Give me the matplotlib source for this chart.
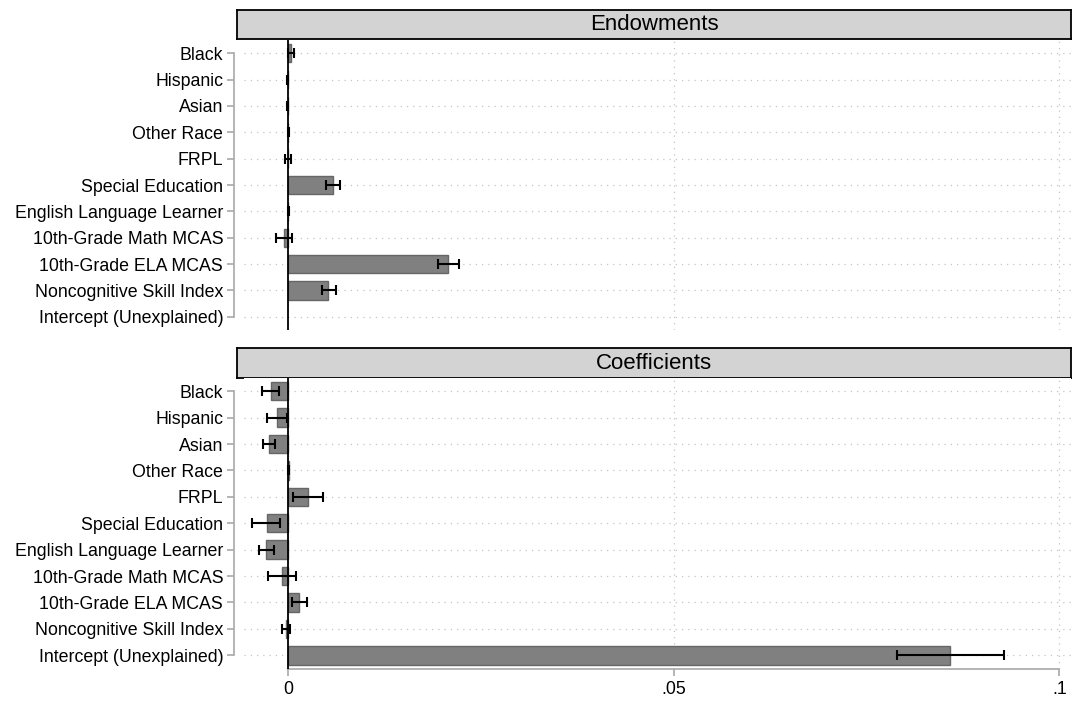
import numpy as np
import matplotlib
matplotlib.use('Agg')
import matplotlib.pyplot as plt

plt.rcParams['font.family'] = ['Liberation Sans', 'DejaVu Sans']

# categories (top to bottom)
labels = ['Black', 'Hispanic', 'Asian', 'Other Race', 'FRPL', 'Special Education',
          'English Language Learner', '10th-Grade Math MCAS', '10th-Grade ELA MCAS',
          'Noncognitive Skill Index', 'Intercept (Unexplained)']

# Endowments panel
endow = [0.0003, -0.0001, -0.0001, 0.0, -0.0001, 0.00575, 0.0, -0.0006, 0.02067, 0.00519, np.nan]
endow_lo = [-0.0001, -0.0002, -0.0002, -0.0001, -0.0005, 0.0049, -0.0001, -0.00156, 0.01937, 0.00437, np.nan]
endow_hi = [0.0007, 0.0000, 0.0000, 0.0001, 0.0003, 0.0067, 0.0001, 0.00043, 0.02209, 0.0061, np.nan]

# Coefficients panel
coef = [-0.00233, -0.00143, -0.00251, 0.00003, 0.00259, -0.00285, -0.0029, -0.00082, 0.00138, -0.00026, 0.08577]
coef_lo = [-0.00346, -0.00277, -0.0033, -0.0001, 0.0006, -0.00476, -0.00381, -0.00272, 0.00052, -0.00078, 0.07894]
coef_hi = [-0.00121, -0.00018, -0.00177, 0.0001, 0.00454, -0.00104, -0.00191, 0.00099, 0.00237, 0.00017, 0.09278]

xticks = [0, 0.05, 0.1]
xticklabels = ['0', '.05', '.1']

W, H = 1072, 701
fig = plt.figure(figsize=(W / 100, H / 100), dpi=100)


def fr(x0, y0, x1, y1):
    # pixel box -> figure fraction rect
    return [x0 / W, 1 - y1 / H, (x1 - x0) / W, (y1 - y0) / H]


def panel(rect, head_rect, title, vals, lo, hi, show_x):
    hx = fig.add_axes(head_rect)
    hx.set_facecolor('#d3d3d3')
    hx.set_xticks([])
    hx.set_yticks([])
    for s in hx.spines.values():
        s.set_color('black')
        s.set_linewidth(1.3)
    hx.text(0.5, 0.5, title, ha='center', va='center', fontsize=16, transform=hx.transAxes)

    ax = fig.add_axes(rect)
    y = np.arange(len(labels))
    vals = np.array(vals, dtype=float)
    lo = np.array(lo, dtype=float)
    hi = np.array(hi, dtype=float)
    ax.barh(y, vals, height=0.7, color='#808080', edgecolor='#666666', linewidth=1, zorder=2)
    ok = ~np.isnan(vals)
    ax.errorbar(vals[ok], y[ok], xerr=[vals[ok] - lo[ok], hi[ok] - vals[ok]], fmt='none',
                ecolor='black', elinewidth=1.5, capsize=3.5, capthick=1.5, zorder=4)
    ax.axvline(0, color='black', lw=1.3, zorder=3)

    ax.set_xlim(-0.00577, 0.1015)
    ax.set_ylim(10.5, -0.5)
    ax.set_yticks(y)
    ax.set_yticklabels(labels)
    ax.set_xticks(xticks)
    ax.grid(True, axis='both', linestyle=(0, (1, 4)), color='#c4c4c4', linewidth=0.9, zorder=0)
    ax.set_axisbelow(True)

    for s in ['top', 'right']:
        ax.spines[s].set_visible(False)
    ax.spines['left'].set_position(('outward', 7))
    ax.spines['left'].set_bounds(0, 10)
    ax.spines['left'].set_color('#a8a8a8')
    ax.spines['left'].set_linewidth(1.2)
    ax.tick_params(axis='y', length=5, width=1.2, color='#a8a8a8', pad=3, labelsize=12.8)
    if show_x:
        ax.spines['bottom'].set_bounds(0, 0.1)
        ax.spines['bottom'].set_color('#a8a8a8')
        ax.spines['bottom'].set_linewidth(1.2)
        ax.set_xticklabels(xticklabels)
        ax.tick_params(axis='x', length=5, width=1.2, color='#a8a8a8', pad=4, labelsize=12.8)
    else:
        ax.spines['bottom'].set_visible(False)
        ax.tick_params(axis='x', length=0, labelbottom=False)
    return ax


panel(fr(244, 40, 1071, 330), fr(237, 9.5, 1071, 39.3), 'Endowments', endow, endow_lo, endow_hi, False)
panel(fr(244, 378, 1071, 668.5), fr(237, 348.5, 1071, 378), 'Coefficients', coef, coef_lo, coef_hi, True)

fig.savefig('out.png', dpi=100)
